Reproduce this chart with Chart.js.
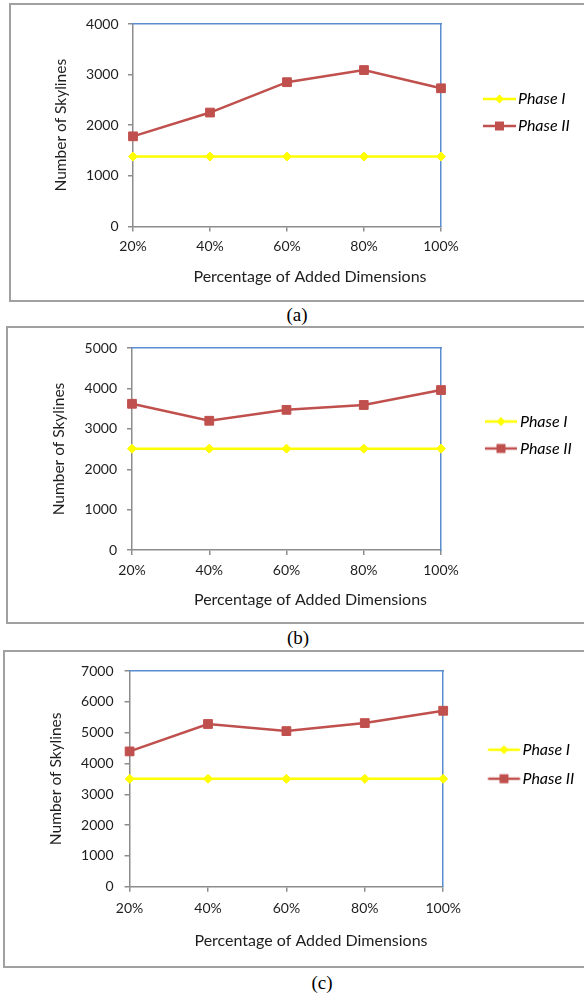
<!DOCTYPE html>
<html>
<head>
<meta charset="utf-8">
<script src="https://cdn.jsdelivr.net/npm/chart.js@4.4.1/dist/chart.umd.min.js"></script>
<style>
  html, body { margin: 0; padding: 0; background: #fff; overflow: hidden; }
  body { width: 584px; height: 999px; position: relative; }
  .frame { position: absolute; border: 2px solid #a0a0a0; box-sizing: border-box; }
  .cap { position: absolute; font-family: "Liberation Serif", serif; font-size: 19px; color: #000;
         transform: translate(-50%, -50%); white-space: nowrap; }
  canvas { position: absolute; left: 0; }
</style>
</head>
<body>
<div class="frame" style="left:9px;top:3px;width:600px;height:299px"></div>
<div class="frame" style="left:6px;top:326px;width:600px;height:298px"></div>
<div class="frame" style="left:3px;top:650px;width:600px;height:318px"></div>
<div class="cap" style="left:297px;top:315px">(a)</div>
<div class="cap" style="left:298px;top:638px">(b)</div>
<div class="cap" style="left:322px;top:983px">(c)</div>
<canvas id="chartA"></canvas>
<canvas id="chartB"></canvas>
<canvas id="chartC"></canvas>
<script>
// dados
const categories = ['20%', '40%', '60%', '80%', '100%'];
const seriesNames = ['Phase I', 'Phase II'];

const phase1A = [1380, 1380, 1380, 1380, 1380];
const phase2A = [1780, 2250, 2850, 3090, 2730];

const phase1B = [2510, 2510, 2510, 2510, 2510];
const phase2B = [3620, 3200, 3470, 3590, 3960];

const phase1C = [3500, 3500, 3500, 3500, 3500];
const phase2C = [4390, 5280, 5050, 5310, 5710];

const yMaxA = 4000, yMaxB = 5000, yMaxC = 7000;
const yStep = 1000;

const yTitle = 'Number of Skylines';
const xTitle = 'Percentage of Added Dimensions';

const YELLOW = '#ffff00';
const RED = '#c0504d';
const AXIS = '#8c8c8c';
const BLUE = '#5a8dd0';
const TEXT = '#1e1e1e';

const TICK_FONT = 14;
const TITLE_FONT = 16;
const YTITLE_FONT = 15.5;
const LEGEND_FONT = 16;

// marcador da legenda: linha com o ponto no meio
function legendMarker(color, style, lineStart, lineEnd, center) {
  const hw = Math.ceil(Math.max(lineEnd - center, center - lineStart)) + 1;
  const c = document.createElement('canvas');
  c.width = hw * 2;
  c.height = 14;
  const g = c.getContext('2d');
  const off = center - hw;
  g.strokeStyle = color;
  g.lineWidth = 2.5;
  g.beginPath();
  g.moveTo(lineStart - off, 7);
  g.lineTo(lineEnd - off, 7);
  g.stroke();
  const mx = (lineStart + lineEnd) / 2 - off;
  g.fillStyle = color;
  if (style === 'rect') {
    g.fillRect(mx - 4.5, 7 - 4.5, 9, 9);
  } else {
    g.beginPath();
    g.moveTo(mx, 7 - 4.5);
    g.lineTo(mx + 4.5, 7);
    g.lineTo(mx, 7 + 4.5);
    g.lineTo(mx - 4.5, 7);
    g.closePath();
    g.fill();
  }
  return c;
}

function makeChart(id, p) {
  const LW = 135;                 // largura fixa da legenda
  const E = p.plot.r + LW;        // borda direita do layout
  const S = 2 * p.xTitleX - E;    // borda esquerda do layout
  const padT = 12, padB = 4;
  const tLH = TITLE_FONT * 1.2;
  const XH = p.xTitleY - p.plot.b - tLH / 2;
  const H = Math.ceil(padT + (p.plot.b - p.plot.t) + XH + tLH + padB);
  const lp = p.legendGap - LEGEND_FONT;   // padding entre itens da legenda
  const psw = p.legendText - p.plot.r - lp - LEGEND_FONT / 2;
  const mc = p.plot.r + lp + psw / 2;
  const titleH = p.legendY - p.plot.t - lp - LEGEND_FONT / 2;

  const cv = document.getElementById(id);
  cv.width = 584;
  cv.height = H;
  cv.style.top = (p.plot.t - padT) + 'px';

  const markers = [
    legendMarker(YELLOW, 'rectRot', p.legendLine[0], p.legendLine[1], mc),
    legendMarker(RED, 'rect', p.legendLine[0], p.legendLine[1], mc)
  ];

  new Chart(cv, {
    type: 'line',
    data: {
      labels: categories,
      datasets: [
        {
          label: seriesNames[0], data: p.s1,
          borderColor: YELLOW, backgroundColor: YELLOW, borderWidth: 2.5,
          pointStyle: 'rectRot', pointRadius: 4.5, pointBorderWidth: 1, tension: 0
        },
        {
          label: seriesNames[1], data: p.s2,
          borderColor: RED, backgroundColor: RED, borderWidth: 2.5,
          pointStyle: 'rect', pointRadius: 6.2, pointBorderWidth: 1, tension: 0
        }
      ]
    },
    options: {
      responsive: false,
      animation: false,
      events: [],
      layout: { padding: { left: S, right: 584 - E, top: padT, bottom: padB } },
      scales: {
        x: {
          position: 'bottom',
          offset: false,
          grid: { drawOnChartArea: false, drawTicks: true, tickLength: 5, color: AXIS, lineWidth: 1.5 },
          border: { color: AXIS, width: 1.5 },
          ticks: { color: TEXT, font: { family: 'Lato', size: TICK_FONT }, padding: p.xLabelY - p.plot.b - 5 - TICK_FONT * 0.6, maxRotation: 0, autoSkip: false },
          afterFit: s => { s.height = XH; s.paddingLeft = 0; s.paddingRight = 0; }
        },
        y: {
          position: 'left',
          min: 0, max: p.yMax,
          grid: { drawOnChartArea: false, drawTicks: true, tickLength: 5, color: AXIS, lineWidth: 1.5 },
          border: { color: AXIS, width: 1.5 },
          ticks: { stepSize: yStep, color: TEXT, font: { family: 'Lato', size: TICK_FONT }, padding: p.yLabelPad,
                   callback: v => String(v) },
          title: {
            display: true, text: yTitle, color: TEXT,
            font: { family: 'Lato', size: YTITLE_FONT, lineHeight: 1 },
            padding: { top: p.yTitleX - S - YTITLE_FONT / 2, bottom: 0 }
          },
          afterFit: s => { s.width = p.plot.l - S; s.paddingTop = 0; s.paddingBottom = 0; }
        },
        xTop: {
          position: 'top',
          grid: { drawOnChartArea: false, drawTicks: false },
          border: { color: BLUE, width: 1.5 },
          ticks: { display: false },
          afterFit: s => { s.height = 0; s.paddingLeft = 0; s.paddingRight = 0; }
        },
        yRight: {
          position: 'right',
          min: 0, max: p.yMax,
          grid: { drawOnChartArea: false, drawTicks: false },
          border: { color: BLUE, width: 1.5 },
          ticks: { display: false },
          afterFit: s => { s.width = 0; s.paddingTop = 0; s.paddingBottom = 0; }
        }
      },
      plugins: {
        tooltip: { enabled: false },
        title: {
          display: true, position: 'bottom', text: xTitle, color: TEXT,
          font: { family: 'Lato', size: TITLE_FONT, weight: 'normal', lineHeight: 1.2 },
          padding: 0
        },
        legend: {
          position: 'right',
          align: 'start',
          maxWidth: LW,
          title: { display: true, text: '', font: { size: 10, lineHeight: 1 }, padding: { top: titleH - 10, bottom: 0 } },
          labels: {
            usePointStyle: true,
            pointStyleWidth: psw,
            padding: lp,
            color: '#000',
            font: { family: 'Lato', size: LEGEND_FONT, style: 'italic' },
            generateLabels: chart => chart.data.datasets.map((ds, i) => ({
              text: ds.label,
              pointStyle: markers[i],
              fillStyle: 'transparent',
              strokeStyle: 'transparent',
              lineWidth: 0,
              fontColor: '#000',
              hidden: false,
              datasetIndex: i
            }))
          }
        }
      }
    }
  });
}

makeChart('chartA', {
  s1: phase1A, s2: phase2A, yMax: yMaxA,
  plot: { l: 133, r: 441, t: 24, b: 226 },
  yTitleX: 60.5, xTitleX: 310, xLabelY: 246, xTitleY: 276, yLabelPad: 9.5,
  legendY: 99, legendGap: 27, legendLine: [483, 516], legendText: 518
});
makeChart('chartB', {
  s1: phase1B, s2: phase2B, yMax: yMaxB,
  plot: { l: 132, r: 441, t: 347.5, b: 548.7 },
  yTitleX: 58.6, xTitleX: 310.5, xLabelY: 569, xTitleY: 598, yLabelPad: 10,
  legendY: 421, legendGap: 27, legendLine: [485, 517], legendText: 520
});
makeChart('chartC', {
  s1: phase1C, s2: phase2C, yMax: yMaxC,
  plot: { l: 129.6, r: 443.2, t: 671.3, b: 886.3 },
  yTitleX: 55.5, xTitleX: 311, xLabelY: 908, xTitleY: 940, yLabelPad: 11,
  legendY: 750, legendGap: 29, legendLine: [488, 520], legendText: 522.5
});
</script>
</body>
</html>
